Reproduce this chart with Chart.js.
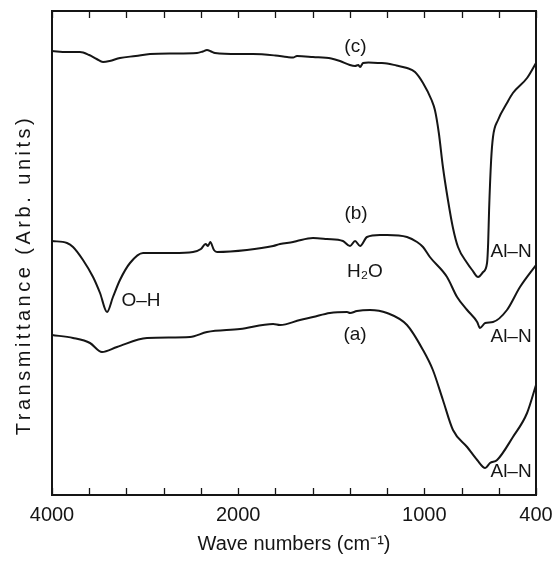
<!DOCTYPE html>
<html><head><meta charset="utf-8">
<script src="https://cdn.jsdelivr.net/npm/chart.js@4.4.1/dist/chart.umd.min.js"></script>
<style>html,body{margin:0;padding:0;background:#fff}canvas{display:block}</style>
</head><body>
<canvas id="c" width="557" height="561"></canvas>
<script>
// ---- axis ticks (wavenumber, cm^-1); the FTIR axis changes scale at 2000 ----
const TICK_VALUES = [4000,3600,3200,2800,2400,2000,1800,1600,1400,1200,1000,800,600,400];
const TICK_LABELED = [4000,2000,1000,400];

// ---- spectrum (c) ----
const wnC = [4000,3840,3700,3600,3520,3452,3380,3270,3100,2947,2700,2442,2380,2335,2290,2249,2000,1920,1800,1737,1705,1684,1598,1500,1453,1400,1372,1355,1345,1329,1300,1238,1200,1150,1093,1050,1007,961,943,922,900,873,846,819,770,743,711,684,663,657,652,641,631,604,556,524,448,400];
const tC  = [444,443,443,440,436,433,434,437,439,441,441.5,442,443.5,445,443.5,442,441,441,439.5,438,437.5,439,438,436.5,434,430,429,430,428,432,432.5,432,431.5,429.5,427,423,412,395,385,362,328,295,267,248,232,225,218,223,232,252,285,335,358,375,392,402,417,432];

// ---- spectrum (b) ----
const wnB = [4000,3839,3774,3667,3559,3484,3409,3345,3270,3162,3022,2700,2485,2400,2350,2324,2300,2260,2227,1953,1812,1775,1705,1684,1598,1523,1437,1399,1372,1345,1308,1238,1200,1093,1039,1007,970,878,824,770,716,701,673,631,556,486,400];
const tB  = [254,252,248,235,218,202,183,198,215,232,242,242,243,246,251,249,253,245,243,245,249,251,253,254,257,256,254,249,254,249,258,260,260,258,253,248,238,218,198,185,173,167,172,173,185,208,230];

// ---- spectrum (a) ----
const wnA = [4000,3774,3592,3463,3302,2979,2517,2335,1990,1812,1775,1668,1598,1507,1415,1399,1362,1292,1200,1093,1007,954,900,846,770,716,673,647,609,524,448,400];
const tA  = [160,157,152,143,148,157,158,163,166,171,170,175,178,182,183,182,184,185,182,170,145,125,95,65,48,35,27,32,35,58,82,110];

// ---- annotations ----
const labelText = ['(c)','(b)','H\u2082O','(a)','O\u2013H','Al\u2013N','Al\u2013N','Al\u2013N'];
const labelWn   = [1370,1367,1319,1372,3044,534,534,534];
const labelT    = [448,281,223,160,194,243,158,23];

function wnToIndex(v) {
  const t = TICK_VALUES, n = t.length - 1;
  if (v >= t[0]) return (t[0] - v) / (t[0] - t[1]);
  for (let i = 0; i < n; i++) {
    if (v <= t[i] && v >= t[i + 1]) return i + (t[i] - v) / (t[i] - t[i + 1]);
  }
  return n - 1 + (t[n - 1] - v) / (t[n - 1] - t[n]);
}

class FtirScale extends Chart.LinearScale {
  buildTicks() { return TICK_VALUES.map(v => ({ value: v })); }
  getPixelForValue(v) { return this.getPixelForDecimal(wnToIndex(v) / (TICK_VALUES.length - 1)); }
  getValueForPixel(px) {
    const idx = this.getDecimalForPixel(px) * (TICK_VALUES.length - 1);
    const i = Math.max(0, Math.min(TICK_VALUES.length - 2, Math.floor(idx)));
    return TICK_VALUES[i] - (idx - i) * (TICK_VALUES[i] - TICK_VALUES[i + 1]);
  }
}
FtirScale.id = 'ftir';
FtirScale.defaults = {};
Chart.register(FtirScale);

const FONT = '"Liberation Sans", Arial, Helvetica, sans-serif';
const INK = '#151515';

function series(wn, t) { return wn.map((w, i) => ({ x: w, y: t[i] })); }
function ds(label, wn, t) {
  return { label, data: series(wn, t), borderColor: INK, borderWidth: 2, pointRadius: 0,
           fill: false, cubicInterpolationMode: 'monotone' };
}

const decor = {
  id: 'decor',
  beforeDraw(chart) {
    const ys = chart.scales.y;
    if (ys && !ys.__patched) {
      const orig = ys.drawTitle;
      ys.drawTitle = function () {
        const c = this.ctx;
        c.save();
        c.letterSpacing = '3.5px';
        c.translate(0, 22);
        orig.call(this);
        c.restore();
      };
      ys.__patched = true;
    }
  },
  afterDraw(chart) {
    const { ctx, chartArea: a, scales: { x, y } } = chart;
    ctx.save();
    ctx.strokeStyle = INK;
    ctx.lineWidth = 1.3;
    ctx.beginPath();
    x.ticks.forEach(t => {
      const px = Math.round(x.getPixelForValue(t.value)) + 0.5;
      ctx.moveTo(px, a.bottom); ctx.lineTo(px, a.bottom - 7);
      ctx.moveTo(px, a.top); ctx.lineTo(px, a.top + 7);
    });
    ctx.stroke();
    ctx.lineWidth = 2;
    ctx.strokeRect(a.left, a.top, a.right - a.left, a.bottom - a.top);
    ctx.font = '19px ' + FONT;
    ctx.fillStyle = INK;
    ctx.textAlign = 'center';
    ctx.textBaseline = 'middle';
    labelText.forEach((s, i) => ctx.fillText(s, x.getPixelForValue(labelWn[i]), y.getPixelForValue(labelT[i])));
    ctx.restore();
  }
};

new Chart(document.getElementById('c'), {
  type: 'line',
  data: { datasets: [ds('(c)', wnC, tC), ds('(b)', wnB, tB), ds('(a)', wnA, tA)] },
  options: {
    responsive: false,
    animation: false,
    devicePixelRatio: 1,
    layout: { padding: { top: 11, right: 21, bottom: 0, left: 0 } },
    plugins: { legend: { display: false }, tooltip: { enabled: false } },
    scales: {
      x: {
        type: 'ftir',
        min: 400, max: 4000,
        grid: { display: false, drawTicks: false },
        border: { display: false },
        ticks: {
          autoSkip: false, maxRotation: 0, padding: 8, color: INK,
          font: { family: FONT, size: 20 },
          callback: v => TICK_LABELED.includes(v) ? String(v) : ''
        },
        title: { display: true, text: 'Wave numbers (cm\u207B\u00B9)', color: INK,
                 font: { family: FONT, size: 20 }, padding: { top: 4, bottom: 5 } },
        afterFit(s) { s.height = 66; s.paddingLeft = 0; s.paddingRight = 0; }
      },
      y: {
        type: 'linear',
        min: 0, max: 484,
        grid: { display: false, drawTicks: false },
        border: { display: false },
        ticks: { display: false },
        title: { display: true, text: 'Transmittance (Arb. units)', color: INK,
                 font: { family: FONT, size: 20 }, padding: { top: 12, bottom: 0 } },
        afterFit(s) { s.width = 52; }
      }
    }
  },
  plugins: [decor]
});
</script>
</body></html>
